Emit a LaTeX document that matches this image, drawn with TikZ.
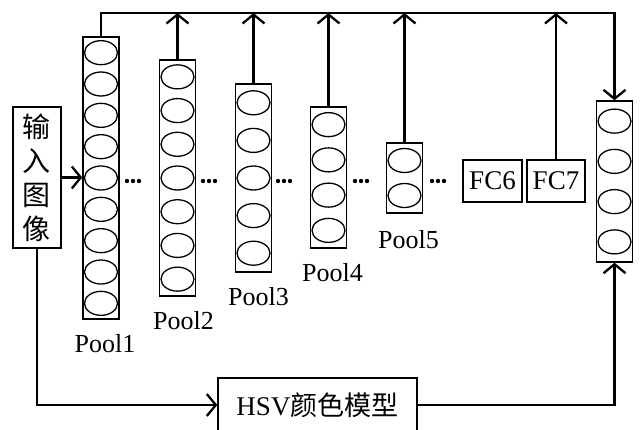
\documentclass[tikz,border=0pt]{standalone}
\usepackage{fontspec}
\setmainfont{Liberation Serif}
\newfontfamily\cjk{Noto Sans CJK SC}
\usetikzlibrary{arrows.meta,positioning}

\tikzset{
  col/.style={draw, line width=1.4pt, minimum width=36pt, inner sep=0pt},
  cell/.style={line width=1.3pt},
  box/.style={draw, line width=1.4pt, inner sep=0pt, font=\fontsize{27}{34}\selectfont},
  link/.style={line width=2.3pt, -{Straight Barb[length=9pt,width=22pt,line width=2.3pt]}},
  lbl/.style={inner sep=0pt, font=\fontsize{26}{30}\selectfont}
}

\begin{document}
\begin{tikzpicture}[x=1pt,y=-1pt]
  \useasboundingbox (0,0) rectangle (642,429);
  % pooling columns: name / centre x / top / bottom / cells
  \foreach \n/\x/\t/\b/\k in {p1/101/37/319/9, p2/177.5/60/296/7, p3/253.5/84/272/5,
      p4/328.5/107/248/4, p5/404.5/143/213/2, out/614.5/101/262/4} {
    \node[col, minimum height={\b-\t}] (\n) at (\x,{(\t+\b)/2}) {};
    \foreach \i in {1,...,\k}
      \draw[cell] (\x,{\t+(\b-\t)*(\i-0.5)/\k}) ellipse [x radius=16.5, y radius=12];
  }
  % labels
  \node[lbl, below=15pt of p1.south, xshift=4pt] (l1) {Pool1};
  \node[lbl, below=15pt of p2.south, xshift=6pt] (l2) {Pool2};
  \node[lbl, below=15pt of p3.south, xshift=5pt] (l3) {Pool3};
  \node[lbl, below=15pt of p4.south, xshift=4pt] (l4) {Pool4};
  \node[lbl, below=17pt of p5.south, xshift=4pt] (l5) {Pool5};
  % dots
  \foreach \x in {133,209,284,361,438}
    \foreach \d in {-6,0,6}
      \fill (\x+\d,181) circle (2.2);
  % boxes
  \node[box, minimum width=48pt, minimum height=141pt, align=center,
    font=\fontsize{28}{34}\selectfont] (in) at (37,177.5)
    {\cjk 输\\\cjk 入\\\cjk 图\\\cjk 像};
  \node[box, minimum width=59pt, minimum height=42pt] (fc6) at (492.5,181) {FC6};
  \node[box, minimum width=58pt, minimum height=42pt] (fc7) at (556,181) {FC7};
  \node[box, minimum width=199pt, minimum height=54pt] (hsv) at (317.5,405) {HSV{\cjk 颜色模型}};
  % connectors
  \coordinate (top) at (101,13);
  \draw[link] (p1.north) -- (top) -| (out.north);
  \foreach \n in {p2,p3,p4,p5,fc7}
    \draw[link] (\n.north) -- (\n.north |- top);
  \draw[link] (in.east) -- (in.east -| p1.west);
  \draw[link] (in.south) |- (hsv.west);
  \draw[link] (hsv.east) -| (out.south);
\end{tikzpicture}
\end{document}
